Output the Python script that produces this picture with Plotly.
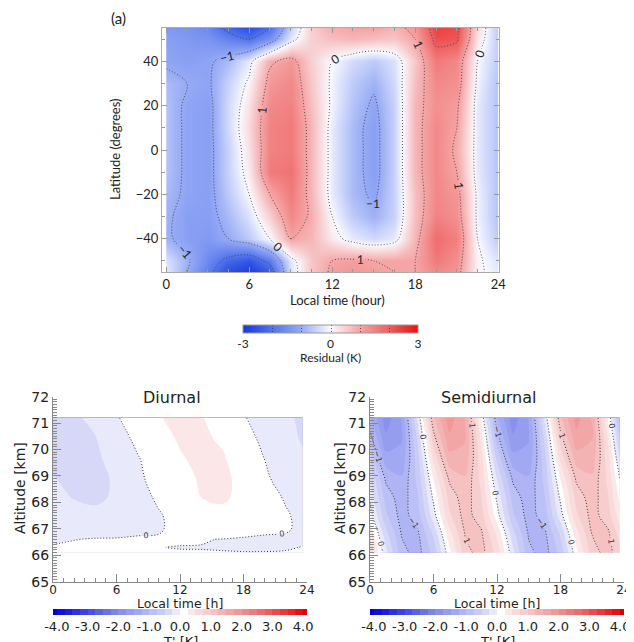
import plotly.graph_objects as go

# the page body has an 8px default margin; the figure is sized to fill the rest of the window
OFF = 8
W, H = 634 - OFF, 642 - OFF

# ---------------- data: panel (a) residual ----------------
lt_top = [0, 1.5, 3, 4.5, 6, 7.5, 9, 10.5, 12, 13.5, 15, 16.5, 18, 19.5, 21, 22.5, 24]
lat_top = [-55, -50, -40, -30, -20, -10, 0, 10, 20, 30, 40, 50, 55]
residual = [
    [-0.2, -1.0, -1.8, -2.6, -2.9, -2.4, -0.3, 0.6, 1.1, 1.2, 1.1, 1.0, 1.0, 1.4, 1.2, 0.1, -0.2],
    [-0.3, -0.9, -1.6, -2.2, -2.5, -1.8, -0.2, 0.6, 1.0, 1.1, 1.0, 1.0, 1.0, 1.6, 1.3, 0.1, -0.3],
    [-0.9, -1.2, -1.3, -1.0, -0.6, 0.0, 1.0, 0.8, 0.2, -0.2, -0.4, -0.2, 0.8, 1.8, 1.5, 0.0, -0.6],
    [-0.9, -1.2, -1.2, -0.8, -0.3, 0.5, 1.4, 0.9, 0.0, -0.6, -0.9, -0.5, 0.7, 1.5, 1.3, -0.1, -0.7],
    [-0.8, -1.1, -1.2, -0.6, 0.0, 1.0, 1.6, 0.8, -0.2, -0.8, -1.1, -0.5, 0.7, 1.4, 1.2, -0.1, -0.7],
    [-0.7, -1.1, -1.2, -0.5, 0.2, 1.6, 1.7, 0.8, -0.2, -0.8, -1.2, -0.5, 0.8, 1.4, 1.0, -0.2, -0.7],
    [-0.7, -1.1, -1.2, -0.5, 0.3, 1.5, 1.6, 0.8, -0.2, -0.8, -1.2, -0.5, 0.8, 1.4, 0.9, -0.2, -0.7],
    [-0.7, -1.1, -1.2, -0.4, 0.4, 1.5, 1.6, 0.8, -0.2, -0.8, -1.2, -0.5, 0.8, 1.4, 1.0, -0.2, -0.7],
    [-0.7, -1.1, -1.2, -0.4, 0.3, 1.4, 1.5, 0.7, -0.1, -0.7, -1.1, -0.5, 0.8, 1.3, 1.1, -0.2, -0.7],
    [-0.8, -1.0, -1.1, -0.5, 0.1, 1.2, 1.4, 0.6, -0.1, -0.6, -0.9, -0.4, 0.7, 1.4, 1.3, -0.1, -0.7],
    [-1.1, -1.2, -1.1, -0.8, -0.2, 0.9, 1.2, 0.5, 0.0, -0.4, -0.6, -0.3, 0.6, 1.6, 1.4, 0.0, -0.6],
    [-1.2, -1.3, -1.4, -1.7, -2.0, -1.4, -0.2, 0.5, 0.7, 0.8, 0.7, 0.6, 1.0, 2.2, 2.1, 0.3, -0.6],
    [-1.3, -1.4, -1.6, -2.2, -2.6, -2.0, -0.5, 0.5, 0.9, 1.0, 1.0, 0.8, 1.2, 2.4, 2.2, 0.4, -0.6],
]

# ---------------- data: diurnal ----------------
lt_d = [0, 2, 4, 6, 8, 10, 12, 14, 16, 18, 20, 22, 23.6]
alt_d = [66.1, 66.3, 66.6, 67.0, 67.5, 68.2, 68.9, 69.6, 70.4, 71.2]
diurnal = [
    [0.02, 0.02, 0.02, 0.02, 0.01, 0.004, 0.004, 0.003, 0.003, 0.002, 0.002, 0.004, 0.006],
    [0.01, 0.02, 0.02, 0.02, 0.01, 0.001, -0.002, -0.002, -0.005, -0.008, -0.008, -0.006, 0.002],
    [-0.02, -0.003, 0.01, 0.01, 0.01, 0.01, 0.008, 0.004, -0.002, -0.01, -0.015, -0.015, -0.01],
    [-0.06, -0.08, -0.08, -0.06, -0.02, -0.01, 0.03, 0.05, 0.05, 0.04, 0.02, 0.01, -0.02],
    [-0.12, -0.18, -0.20, -0.15, -0.07, -0.02, 0.08, 0.18, 0.20, 0.14, 0.07, 0.02, -0.05],
    [-0.20, -0.26, -0.29, -0.22, -0.09, 0.04, 0.15, 0.25, 0.28, 0.20, 0.08, -0.02, -0.14],
    [-0.24, -0.30, -0.31, -0.22, -0.04, 0.08, 0.19, 0.27, 0.29, 0.20, 0.04, -0.10, -0.18],
    [-0.30, -0.33, -0.30, -0.16, -0.02, 0.12, 0.23, 0.29, 0.28, 0.13, 0.00, -0.14, -0.22],
    [-0.30, -0.32, -0.26, -0.10, 0.05, 0.18, 0.27, 0.29, 0.22, 0.08, -0.05, -0.18, -0.27],
    [-0.30, -0.28, -0.20, -0.02, 0.12, 0.24, 0.30, 0.26, 0.18, 0.02, -0.12, -0.22, -0.28],
]

# ---------------- data: semidiurnal ----------------
lt_s = [0, 1.5, 3, 4.5, 6, 7.5, 9, 10.5, 12, 13.5, 15, 16.5, 18, 19.5, 21, 22.5, 23.6]
alt_s = [66.1, 66.8, 67.5, 68.2, 68.9, 69.6, 70.4, 71.2]
semidiurnal = [
    [0.66, -0.17, -0.91, -1.11, -0.66, 0.17, 0.91, 1.11, 0.66, -0.17, -0.93, -1.12, -0.66, 0.17, 0.90, 1.10, 0.83],
    [0.46, -0.40, -1.02, -1.05, -0.46, 0.40, 1.02, 1.05, 0.46, -0.40, -1.03, -1.06, -0.46, 0.40, 1.01, 1.05, 0.66],
    [0.12, -0.70, -1.11, -0.87, -0.12, 0.70, 1.11, 0.87, 0.12, -0.70, -1.12, -0.88, -0.12, 0.70, 1.10, 0.87, 0.35],
    [-0.06, -0.85, -1.15, -0.77, 0.06, 0.85, 1.15, 0.77, -0.06, -0.85, -1.16, -0.77, 0.06, 0.85, 1.14, 0.77, 0.18],
    [-0.26, -1.05, -1.22, -0.68, 0.26, 1.05, 1.22, 0.68, -0.26, -1.05, -1.22, -0.68, 0.26, 1.05, 1.20, 0.68, 0.00],
    [-0.54, -1.37, -1.40, -0.61, 0.54, 1.37, 1.40, 0.61, -0.54, -1.38, -1.40, -0.61, 0.54, 1.35, 1.38, 0.61, -0.23],
    [-0.88, -1.69, -1.52, -0.45, 0.88, 1.69, 1.52, 0.45, -0.88, -1.70, -1.52, -0.45, 0.88, 1.66, 1.50, 0.45, -0.54],
    [-1.20, -1.89, -1.48, -0.20, 1.20, 1.89, 1.48, 0.20, -1.20, -1.90, -1.48, -0.20, 1.20, 1.85, 1.46, 0.20, -0.86],
]

cbar_ticks = [-4, -3, -2, -1, 0, 1, 2, 3, 4]
cbar_ticktext = ['-4.0', '-3.0', '-2.0', '-1.0', '0.0', '1.0', '2.0', '3.0', '4.0']


def fx(px):
    return (px - OFF) / W


def fy(py):
    return 1 - (py - OFF) / H


# colour scales
cs_top = [
    [0.0, 'rgb(20,55,225)'],
    [0.167, 'rgb(80,115,235)'],
    [0.333, 'rgb(150,170,245)'],
    [0.5, 'rgb(250,250,255)'],
    [0.667, 'rgb(245,165,165)'],
    [0.833, 'rgb(238,95,95)'],
    [1.0, 'rgb(235,15,15)'],
]

lo, hi = -4.125, 4.125


def nv(v):
    return (v - lo) / (hi - lo)


cs_bot = [
    [nv(-4.125), 'rgb(0,0,215)'],
    [nv(-3), 'rgb(65,75,226)'],
    [nv(-2), 'rgb(130,140,236)'],
    [nv(-1), 'rgb(180,186,245)'],
    [nv(-0.375), 'rgb(215,215,248)'],
    [nv(-0.125), 'rgb(233,233,252)'],
    [nv(0.125), 'rgb(255,255,255)'],
    [nv(0.375), 'rgb(251,231,231)'],
    [nv(1), 'rgb(246,200,200)'],
    [nv(2), 'rgb(240,145,145)'],
    [nv(3), 'rgb(235,85,85)'],
    [nv(4.125), 'rgb(225,0,0)'],
]

TOPFONT = 'Lato'
BOTFONT = 'DejaVu Sans'
dotline = '1px,2px'

fig = go.Figure()

# panel (a)
fig.add_trace(go.Contour(
    x=lt_top, y=lat_top, z=residual, xaxis='x', yaxis='y',
    colorscale=cs_top, zmin=-3, zmax=3, zauto=False,
    autocontour=False,
    contours=dict(coloring='heatmap', start=-2, end=2, size=1, showlabels=True,
                  labelfont=dict(size=12, color='#222', family=TOPFONT)),
    line=dict(color='rgba(60,60,60,0.85)', width=1, dash=dotline),
    colorbar=dict(orientation='h', x=fx(330.5), xanchor='center', y=fy(325), yanchor='top',
                  len=175 / W, lenmode='fraction', thickness=8, xpad=0, ypad=0,
                  outlinewidth=1, outlinecolor='#999',
                  tickvals=[-3, 0, 3], ticktext=['-3', '0', '3'], ticks='',
                  tickfont=dict(size=12, family=TOPFONT, color='#222')),
    hoverinfo='skip',
))

# diurnal fill + lines
fig.add_trace(go.Contour(
    x=lt_d, y=alt_d, z=diurnal, xaxis='x2', yaxis='y2',
    colorscale=cs_bot, autocontour=False,
    contours=dict(start=-4, end=4, size=0.25, coloring='fill', showlines=False),
    line=dict(width=0),
    colorbar=dict(orientation='h', x=fx(180), xanchor='center', y=fy(609), yanchor='top',
                  len=254 / W, lenmode='fraction', thickness=6, xpad=0, ypad=0,
                  outlinewidth=0, tickvals=cbar_ticks, ticktext=cbar_ticktext, ticks='',
                  tickfont=dict(size=13, family=BOTFONT, color='#222')),
    hoverinfo='skip',
))
fig.add_trace(go.Contour(
    x=lt_d, y=alt_d, z=diurnal, xaxis='x2', yaxis='y2', showscale=False,
    autocontour=False,
    contours=dict(coloring='none', start=-1, end=1, size=1, showlabels=True,
                  labelfont=dict(size=8, color='#333', family=BOTFONT)),
    line=dict(color='#333', width=1, dash=dotline),
    hoverinfo='skip',
))

# semidiurnal fill + lines
fig.add_trace(go.Contour(
    x=lt_s, y=alt_s, z=semidiurnal, xaxis='x3', yaxis='y3',
    colorscale=cs_bot, autocontour=False,
    contours=dict(start=-4, end=4, size=0.25, coloring='fill', showlines=False),
    line=dict(width=0),
    colorbar=dict(orientation='h', x=fx(497), xanchor='center', y=fy(609), yanchor='top',
                  len=254 / W, lenmode='fraction', thickness=6, xpad=0, ypad=0,
                  outlinewidth=0, tickvals=cbar_ticks, ticktext=cbar_ticktext, ticks='',
                  tickfont=dict(size=13, family=BOTFONT, color='#222')),
    hoverinfo='skip',
))
fig.add_trace(go.Contour(
    x=lt_s, y=alt_s, z=semidiurnal, xaxis='x3', yaxis='y3', showscale=False,
    autocontour=False,
    contours=dict(coloring='none', start=-1, end=1, size=1, showlabels=True,
                  labelfont=dict(size=8, color='#333', family=BOTFONT)),
    line=dict(color='#333', width=1, dash=dotline),
    hoverinfo='skip',
))

axis_top = dict(showgrid=False, zeroline=False, showline=True, linecolor='#aaa', linewidth=1,
                mirror='ticks', ticks='inside', tickcolor='#999', ticklen=5,
                tickfont=dict(size=13, family=TOPFONT, color='#222'))
axis_bot = dict(showgrid=False, zeroline=False, showline=True, linecolor='#888', linewidth=1,
                mirror=False, ticks='inside', tickcolor='#888', ticklen=8,
                tickfont=dict(size=12, family=BOTFONT, color='#222'))

fig.update_layout(
    width=W, height=H, margin=dict(l=0, r=0, t=0, b=0, autoexpand=False),
    paper_bgcolor='white', plot_bgcolor='white', showlegend=False,
    xaxis=dict(axis_top, domain=[fx(162), fx(499)], range=[-0.3, 24.05], anchor='y',
               tickvals=[0, 6, 12, 18, 24],
               minor=dict(dtick=1.5, tick0=0, ticks='inside', ticklen=3, tickcolor='#999')),
    yaxis=dict(axis_top, domain=[fy(272), fy(28)], range=[-55, 55], anchor='x',
               tickvals=[-40, -20, 0, 20, 40],
               minor=dict(dtick=10, tick0=0, ticks='inside', ticklen=3, tickcolor='#999')),
    xaxis2=dict(axis_bot, domain=[fx(53), fx(307)], range=[0, 24], anchor='y2',
                tickvals=[0, 6, 12, 18, 24], ticklabelstandoff=-3,
                minor=dict(dtick=1, tick0=0, ticks='inside', ticklen=4, tickcolor='#888')),
    yaxis2=dict(axis_bot, domain=[fy(581.7), fy(396.7)], range=[65, 72], anchor='x2',
                dtick=1, tick0=65, tickfont=dict(size=14, family=BOTFONT, color='#222'),
                minor=dict(dtick=0.1, tick0=65, ticks='inside', ticklen=4, tickcolor='#888')),
    xaxis3=dict(axis_bot, domain=[fx(370), fx(624)], range=[0, 24], anchor='y3',
                tickvals=[0, 6, 12, 18, 24], ticklabelstandoff=-3,
                minor=dict(dtick=1, tick0=0, ticks='inside', ticklen=4, tickcolor='#888')),
    yaxis3=dict(axis_bot, domain=[fy(581.7), fy(396.7)], range=[65, 72], anchor='x3',
                dtick=1, tick0=65, tickfont=dict(size=14, family=BOTFONT, color='#222'),
                minor=dict(dtick=0.1, tick0=65, ticks='inside', ticklen=4, tickcolor='#888')),
)


def ann(text, px, py, size, family, angle=0, color='#222'):
    fig.add_annotation(text=text, x=fx(px), y=fy(py), xref='paper', yref='paper',
                       showarrow=False, textangle=angle, xanchor='center', yanchor='middle',
                       font=dict(size=size, family=family, color=color))


ann('(a)', 118, 18, 15, TOPFONT)
ann('Latitude (degrees)', 115, 150, 13, TOPFONT, angle=-90)
ann('Local time (hour)', 337, 300, 13, TOPFONT)
ann('Residual (K)', 330, 357, 12, TOPFONT)

ann('Diurnal', 172, 397, 16, BOTFONT)
ann('Semidiurnal', 488, 397, 16, BOTFONT)
ann('Altitude [km]', 20, 488, 14, BOTFONT, angle=-90)
ann('Altitude [km]', 340, 488, 14, BOTFONT, angle=-90)
ann('Local time [h]', 180, 603.5, 12.5, BOTFONT)
ann('Local time [h]', 497, 603.5, 12.5, BOTFONT)
ann("T' [K]", 180, 641, 13, BOTFONT)
ann("T' [K]", 497, 641, 13, BOTFONT)

fig.write_html('out.html')
